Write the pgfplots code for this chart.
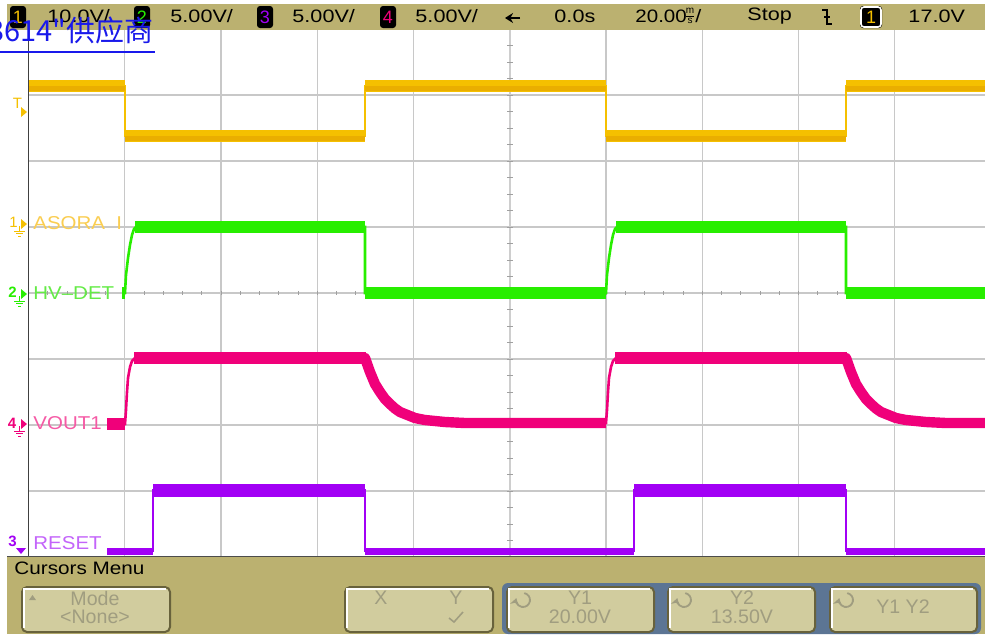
\documentclass[border=0pt]{standalone}
\usepackage{pgfplots}
\pgfplotsset{compat=1.18}
\usepackage{fontspec}
\setmainfont{Liberation Sans}
\newfontfamily\cjk{Noto Sans CJK SC}
\usetikzlibrary{arrows.meta}

\definecolor{tan}{RGB}{187,177,112}
\definecolor{btn}{RGB}{209,204,158}
\definecolor{btnedge}{RGB}{104,98,60}
\definecolor{btntxt}{RGB}{160,157,128}
\definecolor{panel}{RGB}{92,117,148}
\definecolor{gridc}{RGB}{200,200,200}
\definecolor{ch1}{RGB}{245,192,0}
\definecolor{ch1d}{RGB}{234,174,0}
\definecolor{ch2}{RGB}{40,238,0}
\definecolor{ch3}{RGB}{162,0,245}
\definecolor{ch4}{RGB}{240,0,122}
\definecolor{lab1}{RGB}{250,205,80}
\definecolor{lab2}{RGB}{100,235,70}
\definecolor{lab3}{RGB}{195,100,250}
\definecolor{lab4}{RGB}{245,90,165}
\definecolor{cjkblue}{RGB}{25,25,235}

% pixel coordinates of the screenshot: 1px = 0.5pt, y downwards
\tikzset{px/.style={shift={(0,317pt)},x=0.5pt,y=-0.5pt}}
\newcommand\btnbox[4]{%
  \draw[btnedge,line width=1pt,fill=btn,rounded corners=2.5pt] (#1,#2) rectangle (#3,#4);
  \draw[white,line width=0.6pt] ({#1+2},{#4-4}) -- ({#1+2},{#2+2}) -- ({#3-4},{#2+2});}
\newcommand\roticon[2]{%
  \draw[btntxt,line width=0.9pt,-{Stealth[length=3.5pt,width=4.5pt]}] (#1,#2) ++(-80:7) arc (-80:195:7);}

\begin{document}
\begin{tikzpicture}
% backgrounds and graticule
\begin{scope}[px]
  \fill[white] (0,0) rectangle (985,634);
  \fill[tan] (7,4) rectangle (985,30);
  \fill[tan] (7,556) rectangle (985,634);
  \draw[black!70,line width=0.5pt] (7,556) -- (985,556);
  \foreach \y in {95,161,227,293,359,425,491}
    \draw[gridc,line width=0.6pt] (28.5,\y) -- (990,\y);
  \foreach \x in {124.75,221,317.25,413.5,606,702.25,798.5,894.75}
    \draw[gridc,line width=0.6pt] (\x,30) -- (\x,556);
  \draw[black!75!white,line width=0.6pt] (28.5,30) -- (28.5,556);
  \draw[gridc!90!white,line width=1.1pt] (509.75,30) -- (509.75,556);
  \foreach \k in {1,...,49}
    \draw[gridc!80!black,line width=0.5pt] ({28.5+19.25*\k},291) -- ({28.5+19.25*\k},295);
  \foreach \k in {1,...,31}
    \draw[gridc!80!black,line width=0.5pt] (507,{29+16.5*\k}) -- (512.5,{29+16.5*\k});
\end{scope}

\begin{axis}[
    at={(0,0)},anchor=south west,
    scale only axis,width=492.5pt,height=317pt,
    xmin=0,xmax=985,ymin=0,ymax=634,
    y dir=reverse,
    hide axis,clip=false,
    unbounded coords=jump,
]
% channel 1 (yellow)
\addplot[ch1,line width=1pt] coordinates {(29,86)(125,86)(125,136)(365,136)(365,86)(606,86)(606,136)(846,136)(846,86)(990,86)};
\addplot[ch1,line width=6pt] coordinates {(29,86)(125,86)(125,nan)(125,136)(365,136)(365,nan)(365,86)(606,86)(606,nan)(606,136)(846,136)(846,nan)(846,86)(990,86)};
\addplot[ch1d,line width=2.5pt] coordinates {(29,88.5)(125,88.5)(125,nan)(125,138.5)(365,138.5)(365,nan)(365,88.5)(606,88.5)(606,nan)(606,138.5)(846,138.5)(846,nan)(846,88.5)(990,88.5)};
% channel 2 (green)
\addplot[ch2,line width=1.3pt] coordinates {(122,293)(125,293)(126,275)(128,258)(130,245)(132,235)(134,229)(136,227)(365,227)(365,293)(606,293)(607,275)(609,258)(611,245)(613,235)(615,229)(617,227)(846,227)(846,293)(990,293)};
\addplot[ch2,line width=6pt] coordinates {(122,293)(125,293)(125,nan)(135,227)(365,227)(365,nan)(365,293)(606,293)(606,nan)(616,227)(846,227)(846,nan)(846,293)(990,293)};
% channel 4 (pink)
\addplot[ch4,line width=1.3pt] coordinates {(107,424)(125,424)(126,410)(127,392)(128,378)(130,367)(132,361)(135,358)(365,358)(370,372)(375,384)(380,392)(385,399)(390,404)(395,408.5)(400,412)(405,414)(415,418)(425,420)(435,421)(445,422)(465,423)(606,423)(607,410)(608,392)(609,378)(611,367)(613,361)(616,358)(846,358)(851,372)(856,384)(861,392)(866,399)(871,404)(876,408.5)(881,412)(886,414)(896,418)(906,420)(916,421)(926,422)(946,423)(990,423)};
\addplot[ch4,line width=6pt] coordinates {(107,424)(125,424)(125,nan)(134,358)(366,358)(366,nan)(615,358)(847,358)};
\addplot[ch4,line width=5.2pt,line join=round] coordinates {(364,358)(365,358)(370,372)(375,384)(380,392)(385,399)(390,404)(395,408.5)(400,412)(405,414)(415,418)(425,420)(435,421)(445,422)(465,423)(606,423)};
\addplot[ch4,line width=5.2pt,line join=round] coordinates {(845,358)(846,358)(851,372)(856,384)(861,392)(866,399)(871,404)(876,408.5)(881,412)(886,414)(896,418)(906,420)(916,421)(926,422)(946,423)(990,423)};
% channel 3 (purple)
\addplot[ch3,line width=1pt] coordinates {(107,551)(153,551)(153,490)(365,490)(365,551)(634,551)(634,490)(846,490)(846,551)(990,551)};
\addplot[ch3,line width=6.5pt] coordinates {(153,490.5)(365,490.5)(365,nan)(634,490.5)(846,490.5)};
\addplot[ch3,line width=3.5pt] coordinates {(107,551.5)(153,551.5)(153,nan)(365,551.5)(634,551.5)(634,nan)(846,551.5)(990,551.5)};
\end{axis}

% labels, status bar and softkeys
\begin{scope}[px]
  % trigger level marker
  \node[ch1,font=\fontsize{7.5}{8}\selectfont] at (17.5,103.5) {T};
  \fill[ch1] (21,107) -- (27,112) -- (21,117) -- cycle;
  % ground markers
  \node[ch1,font=\fontsize{7.5}{8}\selectfont] at (13.5,222) {1};
  \fill[ch1] (21,219) -- (27,224) -- (21,229) -- cycle;
  \draw[ch1,line width=0.5pt] (19.5,226)--(19.5,231) (14,231)--(25,231) (16,233.5)--(23,233.5) (18,236)--(21,236);
  \node[ch2,font=\fontsize{7.5}{8}\selectfont\bfseries] at (12.5,292) {2};
  \fill[ch2] (21,289) -- (27,294) -- (21,299) -- cycle;
  \draw[ch2,line width=0.5pt] (19.5,296)--(19.5,301) (14,301)--(25,301) (16,303.5)--(23,303.5) (18,306)--(21,306);
  \node[ch4,font=\fontsize{7.5}{8}\selectfont\bfseries] at (12,423) {4};
  \fill[ch4] (21,419) -- (27,424) -- (21,429) -- cycle;
  \draw[ch4,line width=0.5pt] (19.5,426)--(19.5,431) (14,431)--(25,431) (16,433.5)--(23,433.5) (18,436)--(21,436);
  \node[ch3,font=\fontsize{7.5}{8}\selectfont\bfseries] at (12.5,541) {3};
  \fill[ch3] (16,548) -- (26,548) -- (21,554) -- cycle;
  % channel names
  \begin{scope}[every node/.style={anchor=west,inner sep=0pt,font=\fontsize{9.3}{10}\selectfont,xscale=1.1}]
    \node[lab1] at (33,223) {ASORA\ \ I};
    \node[lab2] at (33,293) {HV--DET};
    \node[lab4] at (33,423) {VOUT1};
    \node[lab3] at (33,543) {RESET};
  \end{scope}
  % status bar
  \foreach \xa/\c/\d in {10/ch1/1,134/ch2/2,257/ch3/3,380/ch4/4}{
    \fill[black,rounded corners=1.5pt] (\xa,6) rectangle ({\xa+16},28);
    \node[\c,font=\fontsize{9}{10}\selectfont] at ({\xa+8},17) {\d};
  }
  \fill[black,rounded corners=1.5pt] (860,6) rectangle (882,28);
  \draw[white,line width=0.8pt,rounded corners=1.5pt] (861,7) rectangle (881,27);
  \node[ch1,font=\fontsize{9}{10}\selectfont] at (871,17) {1};
  \begin{scope}[every node/.style={anchor=west,inner sep=0pt,font=\fontsize{9}{10}\selectfont,xscale=1.2,black}]
    \node at (47,16) {10.0V/};
    \node at (170,16) {5.00V/};
    \node at (292,16) {5.00V/};
    \node at (415,16) {5.00V/};
    \node at (554,16) {0.0s};
    \node[xscale=0.95] at (635,16) {20.00};
    \node at (747,16) {Stop};
    \node at (908,16) {17.0V};
  \end{scope}
  \node[font=\fontsize{5}{5}\selectfont,inner sep=0pt] at (690,11) {m};
  \node[font=\fontsize{5}{5}\selectfont,inner sep=0pt] at (690,21) {s};
  \draw[black,line width=0.4pt] (686,16) -- (694,16);
  \node[anchor=west,inner sep=0pt,font=\fontsize{9}{10}\selectfont,xscale=1.2] at (695,16) {/};
  \draw[black,line width=1pt,-{Stealth[length=4pt,width=5pt]}] (520,18) -- (505,18);
  \draw[black,line width=0.7pt] (822,10) -- (827,10) -- (827,24) -- (832,24);
  \draw[black,line width=0.7pt] (824,17) -- (830,17);
  % watermark
  \node[cjkblue,anchor=east,inner sep=0pt,font=\cjk\fontsize{14.5}{16}\selectfont] at (154,30) {3614"供应商};
  \draw[cjkblue,line width=1pt] (0,52) -- (155,52);
  % softkey menu
  \node[anchor=west,inner sep=0pt,font=\fontsize{9}{10}\selectfont,xscale=1.15] at (14,568) {Cursors Menu};
  \btnbox{22}{587}{170}{632}
  \btnbox{345}{587}{493}{632}
  \fill[panel,rounded corners=3pt] (502,583) rectangle (981,634);
  \btnbox{507}{587}{654}{632}
  \btnbox{668}{587}{815}{632}
  \btnbox{830}{587}{977}{632}
  \begin{scope}[every node/.style={inner sep=0pt,font=\fontsize{9.8}{10}\selectfont,btntxt}]
    \node at (95,598) {Mode};
    \node at (95,617) {<None>};
    \node at (381,598) {X};
    \node at (456,598) {Y};
    \node at (580,598) {Y1};
    \node at (580,617) {20.00V};
    \node at (742,598) {Y2};
    \node at (742,617) {13.50V};
    \node at (903,607) {Y1 Y2};
  \end{scope}
  \fill[btntxt] (29,600) -- (32.5,595) -- (36,600) -- cycle;
  \draw[btntxt,line width=0.8pt] (449,618) -- (454,622) -- (463,612);
  \roticon{523}{600}
  \roticon{684}{600}
  \roticon{846}{600}
\end{scope}
\pgfresetboundingbox
\path (0,0) rectangle (492.5pt,317pt);
\end{tikzpicture}
\end{document}
